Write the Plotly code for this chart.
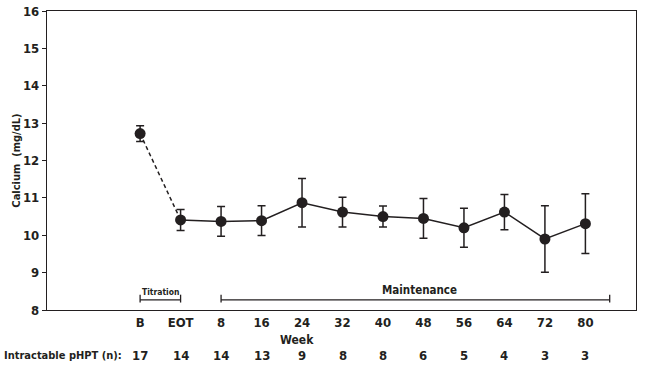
import plotly.graph_objects as go

labels = ["B", "EOT", "8", "16", "24", "32", "40", "48", "56", "64", "72", "80"]
calcium = [12.72, 10.41, 10.37, 10.39, 10.87, 10.62, 10.50, 10.45, 10.20, 10.62, 9.90, 10.31]
err = [0.21, 0.28, 0.40, 0.40, 0.65, 0.40, 0.28, 0.53, 0.52, 0.47, 0.89, 0.80]
n_patients = [17, 14, 14, 13, 9, 8, 8, 6, 5, 4, 3, 3]

FONT = "DejaVu Sans Condensed, Liberation Sans Narrow, sans-serif"
INK = "#231f20"
idx = list(range(len(labels)))

fig = go.Figure()
fig.add_trace(go.Scatter(x=idx[:2], y=calcium[:2], mode="lines",
                         line=dict(color=INK, width=1.5, dash="4px,3px"),
                         hoverinfo="skip", showlegend=False))
fig.add_trace(go.Scatter(x=idx[1:], y=calcium[1:], mode="lines",
                         line=dict(color=INK, width=1.5),
                         hoverinfo="skip", showlegend=False))
fig.add_trace(go.Scatter(x=idx, y=calcium, mode="markers",
                         marker=dict(color=INK, size=11),
                         error_y=dict(type="data", array=err, visible=True,
                                      color=INK, thickness=1.5, width=4),
                         showlegend=False))


def bracket(x0, x1, y, text, tx, size):
    fig.add_shape(type="line", x0=x0, x1=x1, y0=y, y1=y, line=dict(color=INK, width=1.3))
    for xx in (x0, x1):
        fig.add_shape(type="line", x0=xx, x1=xx, y0=y - 0.07, y1=y + 0.14,
                      line=dict(color=INK, width=1.3))
    fig.add_annotation(x=tx, y=y, yshift=1, text=text, showarrow=False, yanchor="bottom",
                       font=dict(family=FONT, size=size, color=INK))


bracket(0, 1, 8.27, "<b>Titration</b>", 0.5, 8.5)
bracket(2, 11.6, 8.27, "<b>Maintenance</b>", 6.9, 11.5)

fig.add_annotation(x=0, xref="paper", xanchor="left", y=-0.153, yref="paper", yanchor="middle",
                   xshift=-45, text="<b>Intractable pHPT (n):</b>", showarrow=False,
                   font=dict(family=FONT, size=11, color=INK))
for i, n in zip(idx, n_patients):
    fig.add_annotation(x=i, y=-0.153, yref="paper", yanchor="middle", text=f"<b>{n}</b>",
                       showarrow=False, font=dict(family=FONT, size=13, color=INK))
fig.add_annotation(x=3.88, y=-0.1, yref="paper", yanchor="middle", text="<b>Week</b>",
                   showarrow=False, font=dict(family=FONT, size=12, color=INK))

fig.update_xaxes(range=[-2.3, 12.25], tickmode="array", tickvals=idx,
                 ticktext=[f"<b>{l}</b>" for l in labels], ticks="", showgrid=False,
                 zeroline=False, showline=True, linecolor=INK, linewidth=1.3, mirror=True,
                 automargin=False, tickfont=dict(family=FONT, size=13, color=INK))
fig.update_yaxes(range=[8, 16], dtick=1, ticks="outside", ticklen=4, tickcolor=INK,
                 showgrid=False, zeroline=False, showline=True, linecolor=INK, linewidth=1.3,
                 mirror=True, automargin=False, ticklabeloverflow="allow",
                 tickfont=dict(family=FONT, size=13, color=INK),
                 tickprefix="<b>", ticksuffix="</b>",
                 title=dict(text="<b>Calcium  (mg/dL)</b>", standoff=0,
                            font=dict(family=FONT, size=11, color=INK)))
fig.update_layout(width=646, height=367, margin=dict(l=47, r=10, t=11, b=57),
                  plot_bgcolor="white", paper_bgcolor="white")
fig.write_html("out.html", config={"displayModeBar": False},
               post_script="document.body.style.margin='0';")
